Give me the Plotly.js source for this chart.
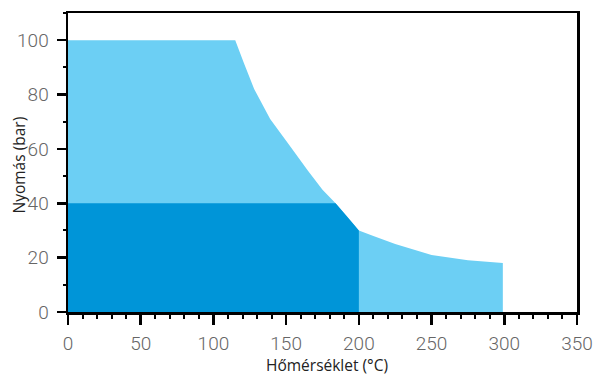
<!DOCTYPE html>
<html><head><meta charset="utf-8">
<script src="https://cdn.plot.ly/plotly-3.0.1.min.js"></script>
<style>html,body{margin:0;padding:0;background:#fff}#c{width:600px;height:377px}</style>
</head><body><div id="c"></div>
<script>
// Light region (outer envelope): temperature (°C) vs pressure (bar)
const outerTemp = [0, 0, 115, 121, 128, 139, 152, 165, 175, 184, 192, 200, 210, 225, 250, 275, 299, 299];
const outerPres = [0, 100, 100, 91.5, 82, 71, 61.5, 52, 45, 40, 35, 30, 28, 25, 21, 19, 18, 0];
// Dark region (inner envelope)
const innerTemp = [0, 0, 184, 192, 200, 200];
const innerPres = [0, 40, 40, 35, 30, 0];
const xTicks = [0, 50, 100, 150, 200, 250, 300, 350];
const yTicks = [0, 20, 40, 60, 80, 100];
const xTitle = 'Hőmérséklet (°C)';
const yTitle = 'Nyomás (bar)';

const data = [
  {x: outerTemp, y: outerPres, type: 'scatter', mode: 'none', fill: 'toself', fillcolor: '#6ccff4', hoverinfo: 'skip'},
  {x: innerTemp, y: innerPres, type: 'scatter', mode: 'none', fill: 'toself', fillcolor: '#0095d8', hoverinfo: 'skip'}
];
const tickFont = {family: 'Roboto, sans-serif', size: 19, color: '#666', weight: 300};
const titleFont = {family: 'Open Sans, sans-serif', size: 15.5, color: '#222'};
const layout = {
  width: 600, height: 377,
  margin: {l: 68, r: 23, t: 13, b: 65},
  showlegend: false,
  paper_bgcolor: '#fff', plot_bgcolor: '#fff',
  xaxis: {
    range: [0, 350], tickvals: xTicks, ticktext: xTicks.map(String),
    showgrid: false, zeroline: false, showline: true, linecolor: '#000', linewidth: 2.5, mirror: true,
    ticks: 'outside', ticklen: 10, tickwidth: 2.5, tickcolor: '#000',
    minor: {dtick: 10, tick0: 0, ticks: 'outside', ticklen: 4, tickwidth: 2, tickcolor: '#000', showgrid: false},
    tickfont: tickFont, ticklabelstandoff: 3
  },
  yaxis: {
    range: [0, 110], tickvals: yTicks, ticktext: yTicks.map(String),
    showgrid: false, zeroline: false, showline: true, linecolor: '#000', linewidth: 2.5, mirror: true,
    ticks: 'outside', ticklen: 9, tickwidth: 2.5, tickcolor: '#000',
    minor: {dtick: 10, tick0: 0, ticks: 'outside', ticklen: 3, tickwidth: 2, tickcolor: '#000', showgrid: false},
    tickfont: tickFont, ticklabelstandoff: 4
  },
  annotations: [
    {text: xTitle, xref: 'paper', yref: 'paper', x: 0.5, y: 0, xanchor: 'center', yanchor: 'middle', showarrow: false, font: titleFont, xshift: 4, yshift: -53},
    {text: yTitle, xref: 'paper', yref: 'paper', x: 0, y: 0.5, xanchor: 'center', yanchor: 'middle', showarrow: false, font: titleFont, textangle: -90, xshift: -50, yshift: -3}
  ]
};
Plotly.newPlot('c', data, layout, {displayModeBar: false, staticPlot: true});
</script></body></html>
